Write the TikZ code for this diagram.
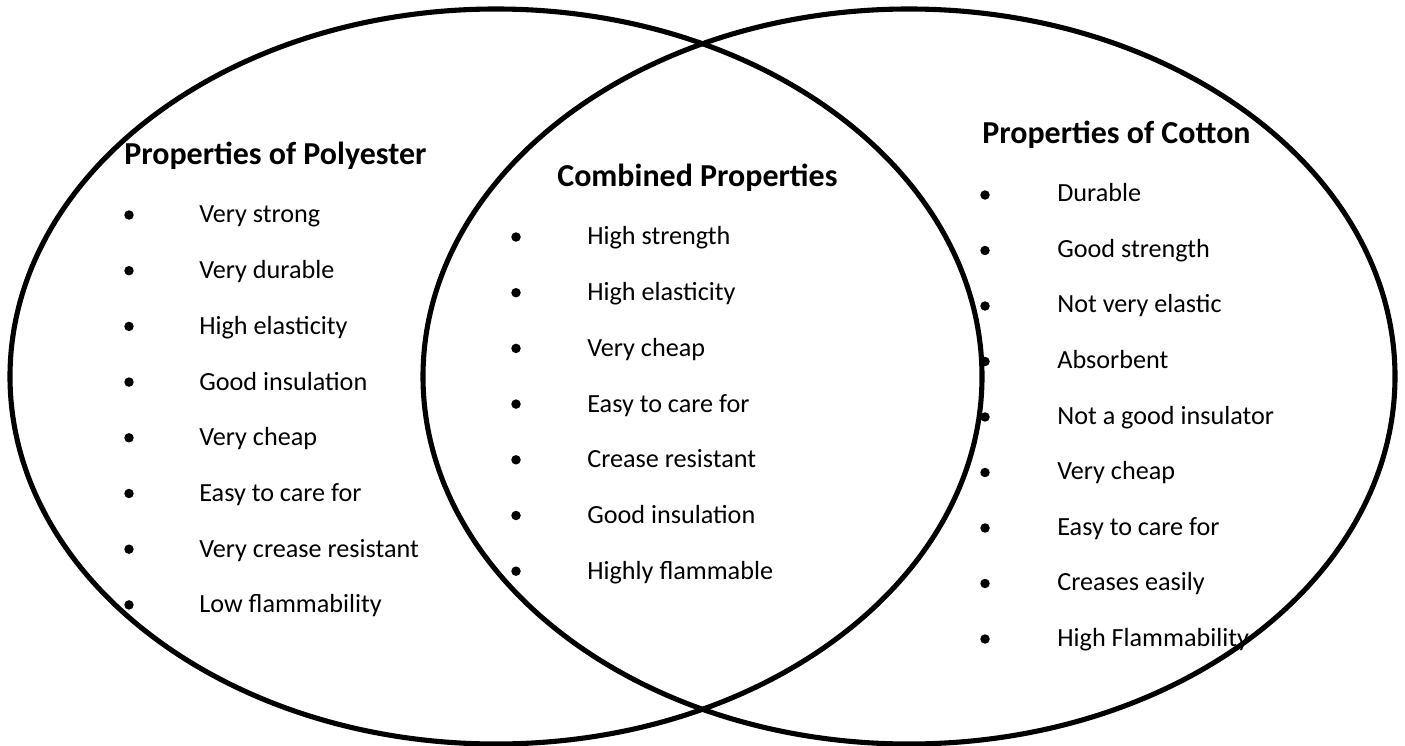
\documentclass[tikz,border=0pt]{standalone}
\usepackage{fontspec}
\setmainfont{Carlito}
\tikzset{
  ring/.style={line width=2.9pt},
  head/.style={anchor=base west, inner sep=0pt, font=\fontsize{18.2}{21}\selectfont\bfseries},
  item/.style={anchor=base west, inner sep=0pt, font=\fontsize{14.9}{18}\selectfont},
  dot/.style={circle, fill, inner sep=0pt, minimum size=5.4pt},
}
\begin{document}
\begin{tikzpicture}[x=0.02cm,y=-0.02cm]
    \useasboundingbox (0,0) rectangle (1405,746);
    %% Circles
    \draw[ring] (496,376.5) ellipse [x radius=486, y radius=367.5];
    \draw[ring] (909,376.5) ellipse [x radius=486, y radius=367.5];
    %% Polyester
    \node[head] (polhead) at (124,165) {Properties of Polyester};
    \foreach \txt [count=\i] in {Very strong, Very durable, High elasticity, Good insulation,
        Very cheap, Easy to care for, Very crease resistant, Low flammability}
      {\node[dot] (poldot\i) at (129,{215+55.7*(\i-1)}) {};
       \node[item] (pol\i) at (199,{223+55.7*(\i-1)}) {\txt};}
    %% Combined
    \node[head] (combhead) at (557,187) {Combined Properties};
    \foreach \txt [count=\i] in {High strength, High elasticity, Very cheap, Easy to care for,
        Crease resistant, Good insulation, Highly flammable}
      {\node[dot] (combdot\i) at (516,{237+55.7*(\i-1)}) {};
       \node[item] (comb\i) at (587,{245+55.7*(\i-1)}) {\txt};}
    %% Cotton
    \node[head] (cothead) at (982,144) {Properties of Cotton};
    \foreach \txt [count=\i] in {Durable, Good strength, Not very elastic, Absorbent,
        Not a good insulator, Very cheap, Easy to care for, Creases easily, High Flammability}
      {\node[dot] (cotdot\i) at (985,{195+55.5*(\i-1)}) {};
       \node[item] (cot\i) at (1057,{202+55.5*(\i-1)}) {\txt};}
\end{tikzpicture}
\end{document}
